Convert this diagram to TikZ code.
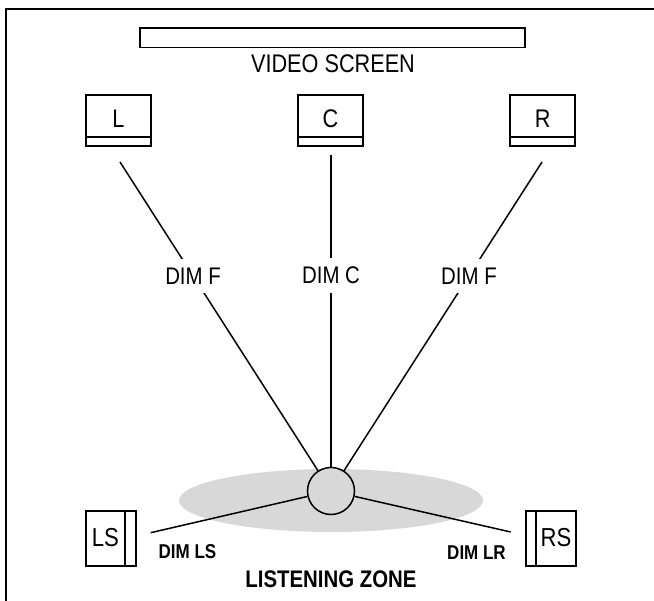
\documentclass[tikz,border=0pt]{standalone}
\usepackage{fontspec}
\newfontfamily\nf[FakeStretch=0.85]{Liberation Sans}
\usetikzlibrary{shapes.geometric}
\definecolor{zonegray}{RGB}{216,216,216}
\begin{document}
\begin{tikzpicture}[x=1pt,y=-1pt,
  spkbox/.style={draw,line width=1.8pt,minimum width=65pt,minimum height=51pt,inner sep=0pt},
  sidebox/.style={draw,line width=1.8pt,minimum width=50pt,minimum height=55pt,inner sep=0pt},
  conn/.style={line width=1.5pt},
  txt/.style={font=\nf\fontsize{25.5}{30}\selectfont,inner sep=0pt,anchor=base},
  lab/.style={font=\nf\fontsize{24}{28}\selectfont,fill=white,inner xsep=2pt,inner ysep=9pt},
  smlab/.style={font=\nf\bfseries\fontsize{20}{24}\selectfont,inner sep=0pt,anchor=base},
  biglab/.style={font=\nf\fontsize{26}{30}\selectfont,inner sep=0pt,anchor=base},
  zonelab/.style={font=\nf\bfseries\fontsize{24}{28}\selectfont,inner sep=0pt,anchor=base}]
\useasboundingbox (0,0) rectangle (654,601);
% frame
\draw[line width=1.8pt] (6,601) -- (6,9) -- (654,9);
% listening zone
\node[ellipse,fill=zonegray,minimum width=304pt,minimum height=63pt,inner sep=0pt] (zone) at (331,500.5) {};
% screen
\node[draw,line width=1.8pt,minimum width=385pt,minimum height=19.5pt,inner sep=0pt] (screen) at (332.5,37.75) {};
\node[txt] (screenlab) at (333,73) {VIDEO SCREEN};
% front speakers
\node[spkbox] (L) at (118.5,120.75) {};
\node[spkbox] (C) at (330.5,120.75) {};
\node[spkbox] (R) at (542.8,120.75) {};
\foreach \s in {L,C,R}{
  \draw[line width=1.8pt] ([yshift=10.5pt]\s.south west) -- ([yshift=10.5pt]\s.south east);
}
\node[txt] (Lt) at (118.5,128) {L};
\node[txt] (Ct) at (330.5,128) {C};
\node[txt] (Rt) at (542.8,128) {R};
% listener
\node[circle,draw,line width=1.5pt,minimum size=47pt,inner sep=0pt] (lis) at (331,491) {};
% connectors front
\coordinate (Ls) at (120,162);
\coordinate (Cs) at (331,155);
\coordinate (Rs) at (542,162);
\draw[conn] (Ls) -- node[lab,pos=0.369] (dimfl) {DIM F} (lis);
\draw[conn] (Cs) -- node[lab,pos=0.387] (dimc) {DIM C} (lis);
\draw[conn] (Rs) -- node[lab,pos=0.369] (dimfr) {DIM F} (lis);
% surround speakers
\node[sidebox] (LS) at (110.7,538.5) {};
\draw[line width=1.8pt] (125,511) -- (125,566);
\node[biglab] (LSt) at (105.3,547) {LS};
\node[sidebox] (RS) at (550.85,538.5) {};
\draw[line width=1.8pt] (536,511) -- (536,566);
\node[biglab] (RSt) at (556,547) {RS};
\coordinate (LSe) at (150.7,532.7);
\coordinate (RSe) at (510.7,532);
\draw[conn] (LSe) -- (lis);
\draw[conn] (RSe) -- (lis);
\node[smlab] (dimls) at (187.5,559) {DIM LS};
\node[smlab] (dimlr) at (476.5,560) {DIM LR};
\node[zonelab] (zonelab) at (331,587) {LISTENING ZONE};
\end{tikzpicture}
\end{document}
